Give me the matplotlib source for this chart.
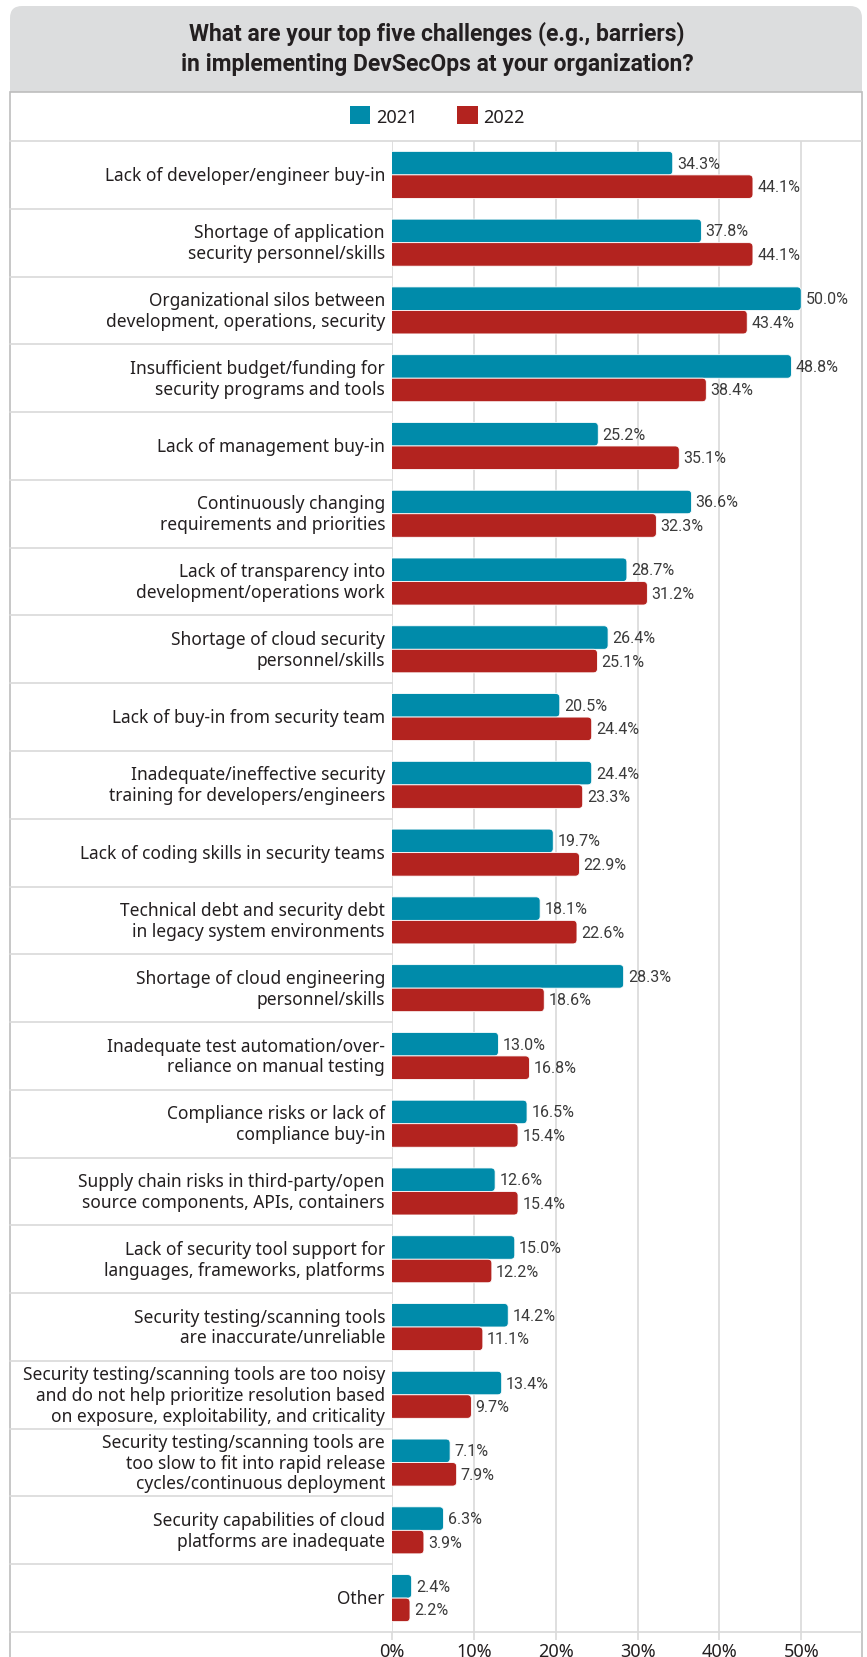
import matplotlib.pyplot as plt
import matplotlib.transforms as mtransforms
from matplotlib.patches import FancyBboxPatch, Rectangle, Patch
from matplotlib import font_manager

labels = [
    "Lack of developer/engineer buy-in",
    "Shortage of application\nsecurity personnel/skills",
    "Organizational silos between\ndevelopment, operations, security",
    "Insufficient budget/funding for\nsecurity programs and tools",
    "Lack of management buy-in",
    "Continuously changing\nrequirements and priorities",
    "Lack of transparency into\ndevelopment/operations work",
    "Shortage of cloud security\npersonnel/skills",
    "Lack of buy-in from security team",
    "Inadequate/ineffective security\ntraining for developers/engineers",
    "Lack of coding skills in security teams",
    "Technical debt and security debt\nin legacy system environments",
    "Shortage of cloud engineering\npersonnel/skills",
    "Inadequate test automation/over-\nreliance on manual testing",
    "Compliance risks or lack of\ncompliance buy-in",
    "Supply chain risks in third-party/open\nsource components, APIs, containers",
    "Lack of security tool support for\nlanguages, frameworks, platforms",
    "Security testing/scanning tools\nare inaccurate/unreliable",
    "Security testing/scanning tools are too noisy\nand do not help prioritize resolution based\non exposure, exploitability, and criticality",
    "Security testing/scanning tools are\ntoo slow to fit into rapid release\ncycles/continuous deployment",
    "Security capabilities of cloud\nplatforms are inadequate",
    "Other",
]
pct_2021 = [34.3, 37.8, 50.0, 48.8, 25.2, 36.6, 28.7, 26.4, 20.5, 24.4, 19.7,
            18.1, 28.3, 13.0, 16.5, 12.6, 15.0, 14.2, 13.4, 7.1, 6.3, 2.4]
pct_2022 = [44.1, 44.1, 43.4, 38.4, 35.1, 32.3, 31.2, 25.1, 24.4, 23.3, 22.9,
            22.6, 18.6, 16.8, 15.4, 15.4, 12.2, 11.1, 9.7, 7.9, 3.9, 2.2]
years = ["2021", "2022"]
colors = ["#008BAA", "#B3231F"]
xticks = [0, 10, 20, 30, 40, 50]

title = ("What are your top five challenges (e.g., barriers)\n"
         "in implementing DevSecOps at your organization?")

plt.rcParams['font.family'] = ['Noto Sans', 'DejaVu Sans']
installed = {f.name for f in font_manager.fontManager.ttflist}
narrow = ['Liberation Sans Narrow'] if 'Liberation Sans Narrow' in installed else ['Roboto']
text_color = '#231F20'
line_color = '#D9D9D9'

W, H = 867, 1658
fig = plt.figure(figsize=(W / 100, H / 100), dpi=100)


def fx(px):
    return px / W


def fy(py):
    return 1 - py / H


# title band with rounded top and white frame below
px = fig.dpi_scale_trans
band = FancyBboxPatch((10 / 100, (H - 140) / 100), 852 / 100, 133 / 100,
                      boxstyle="round,pad=0,rounding_size=0.12",
                      transform=px, facecolor='#DCDDDE', edgecolor='none', zorder=-2)
fig.patches.append(band)
frame = Rectangle((10 / 100, -0.1), 852 / 100, (H - 93) / 100 + 0.1,
                  transform=px, facecolor='white', edgecolor='#BDBDBD', lw=1.2, zorder=-1)
fig.patches.append(frame)

fig.text(fx(437), fy(49), title, ha='center', va='center', fontsize=16.5,
         fontweight='bold', color=text_color, linespacing=1.4, family=narrow)

# plot area
ax = fig.add_axes([fx(392), fy(1633), fx(861) - fx(392), fy(142) - fy(1633)])
ax.set_facecolor('none')
n = len(labels)
y = list(range(n))
h = 0.347
xmax = 57.3
ax.set_xlim(0, xmax)
ax.set_ylim(n - 0.5, -0.5)

bars_a = ax.barh([i - h / 2 for i in y], pct_2021, height=h, color=colors[0], zorder=3)
bars_b = ax.barh([i + h / 2 for i in y], pct_2022, height=h, color=colors[1], zorder=3)

# swap the plain rectangles for ones with a rounded right end
x_per_px = xmax / 469
y_per_px = n / 1491
for bars, c in ((bars_a, colors[0]), (bars_b, colors[1])):
    for r in bars:
        r.set_visible(False)
        box = FancyBboxPatch((r.get_x() - 1, r.get_y()), r.get_width() + 1, r.get_height(),
                             boxstyle=f"round,pad=0,rounding_size={4 * x_per_px:.3f}",
                             mutation_aspect=y_per_px / x_per_px,
                             facecolor=c, edgecolor='white', linewidth=0.6, zorder=3)
        ax.add_patch(box)

for i, (a, b) in enumerate(zip(pct_2021, pct_2022)):
    ax.annotate(f"{a:.1f}%", (a, i - h / 2), xytext=(3, 0), textcoords='offset points',
                ha='left', va='center', fontsize=11.5, color='#3A3A3A', family=narrow)
    ax.annotate(f"{b:.1f}%", (b, i + h / 2), xytext=(3, 0), textcoords='offset points',
                ha='left', va='center', fontsize=11.5, color='#3A3A3A', family=narrow)

ax.set_yticks([])
ax.set_xticks(xticks)
ax.set_xticklabels([f"{t}%" for t in xticks])
ax.tick_params(axis='x', length=6, color=line_color, width=1.2, labelsize=13,
               labelcolor=text_color, pad=1)
ax.grid(axis='x', color=line_color, linewidth=1.2, zorder=0)
for s in ax.spines.values():
    s.set_visible(False)

# category labels and row separators in the label column
trans = mtransforms.blended_transform_factory(ax.transAxes, ax.transData)
left = -(392 - 10) / 469
for i, lab in enumerate(labels):
    ax.text(-7 / 469, i, lab, transform=trans, ha='right', va='center',
            fontsize=12.5, color=text_color, linespacing=1.2)
for i in range(1, n):
    ax.plot([left, 0], [i - 0.5, i - 0.5], transform=trans, clip_on=False,
            color=line_color, lw=1.2)
ax.plot([left, 1], [-0.5, -0.5], transform=trans, clip_on=False, color=line_color, lw=1.2)
ax.plot([left, 1], [n - 0.5, n - 0.5], transform=trans, clip_on=False, color=line_color, lw=1.2)

# legend
handles = [Patch(facecolor=c, edgecolor='none') for c in colors]
fig.legend(handles, years, loc='center', bbox_to_anchor=(fx(437), fy(117)), ncol=2,
           frameon=False, fontsize=13, handlelength=1.15, handleheight=1.15,
           handletextpad=0.3, columnspacing=2.2, labelcolor=text_color)

fig.savefig('out.png', dpi=100)
